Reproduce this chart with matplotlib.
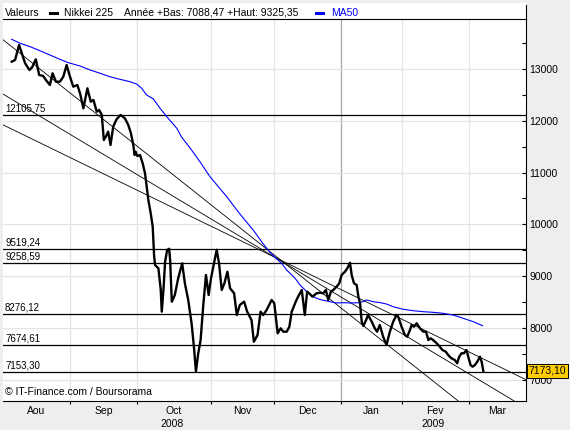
import matplotlib
matplotlib.use("Agg")
import matplotlib.pyplot as plt
from matplotlib.patches import Rectangle
from matplotlib.lines import Line2D
from matplotlib.transforms import blended_transform_factory

plt.rcParams['font.family'] = ['Liberation Sans', 'DejaVu Sans']

# ---------------- data ----------------
sessions = [2.6, 3.6, 4.8, 5.8, 6.6, 7.9, 8.7, 9.8, 10.8, 12.0,
            12.8, 14.0, 14.8, 15.8, 17.0, 18.0, 19.0, 20.0, 21.0, 22.2,
            23.0, 24.0, 25.2, 26.2, 27.0, 28.0, 28.7, 29.5, 30.1, 30.7,
            31.4, 32.1, 32.9, 33.9, 35.1, 36.4, 37.4, 38.2, 38.9, 39.3,
            39.6, 40.1, 40.9, 41.7, 42.4, 42.9, 43.4, 44.1, 44.7, 44.9,
            45.1, 45.4, 46.4, 47.1, 47.4, 47.9, 48.4, 49.0, 49.6, 49.9,
            50.4, 51.3, 52.3, 53.5, 54.3, 55.3, 56.3, 57.0, 57.6, 58.3,
            59.0, 59.8, 60.6, 61.4, 62.1, 62.8, 63.8, 64.5, 65.3, 66.1,
            67.0, 67.8, 69.0, 69.8, 70.7, 72.0, 72.9, 74.2, 74.9, 76.0,
            76.9, 77.7, 78.7, 80.2, 81.0, 82.0, 82.9, 83.7, 84.7, 85.5,
            86.2, 87.4, 88.1, 89.2, 90.1, 90.8, 91.4, 92.4, 93.6, 94.8,
            95.6, 96.4, 97.1, 97.9, 98.6, 99.6, 100.4, 101.1, 102.1, 102.8,
            103.6, 104.1, 104.8, 105.6, 106.1, 106.6, 107.1, 107.6, 108.4, 109.0,
            110.1, 111.0, 111.7, 112.5, 113.5, 114.5, 115.5, 116.5, 117.5, 118.0,
            119.0, 120.0, 120.7, 121.5, 122.0, 122.7, 123.5, 124.5, 125.5, 126.3,
            127.0, 127.7, 128.4, 129.5, 130.4, 131.2, 132.2, 132.9, 133.9, 134.9,
            135.6, 136.2, 136.9, 137.6, 138.4, 138.9, 139.6, 140.2, 140.9, 141.6,
            142.4, 142.9, 143.4]
close = [13141, 13174, 13463, 13270, 13110, 12981, 13033, 13187, 12884, 12865,
         12788, 12691, 12917, 12755, 12755, 12851, 13077, 12851, 12658, 12691,
         12531, 12241, 12627, 12369, 12402, 12176, 12209, 12112, 11629, 11693,
         11790, 11533, 11886, 12029, 12112, 12048, 11919, 11759, 11533, 11340,
         11403, 11320, 11340, 11180, 10986, 10728, 10471, 10214, 9956, 9699,
         9409, 9216, 9152, 8734, 8315, 8734, 9280, 9506, 9530, 9313,
         8508, 8637, 8959, 9249, 8863, 8541, 8091, 7639, 7162, 7512,
         7769, 8444, 9023, 8637, 8959, 9183, 9510, 9249, 8734, 8863,
         9087, 8767, 8670, 8251, 8444, 8508, 8315, 8154, 7735, 7865,
         8315, 8251, 8347, 8541, 8477, 7898, 7994, 7929, 7929, 8025,
         8315, 8508, 8604, 8734, 8251, 8701, 8670, 8604, 8670, 8682,
         8670, 8734, 8541, 8701, 8734, 8798, 8863, 9023, 9087, 9153,
         9260, 9023, 8863, 8830, 8604, 8477, 8122, 8039, 8154, 8251,
         8122, 7994, 7929, 8058, 7832, 7672, 7929, 8122, 8251, 8218,
         8025, 7865, 7832, 7961, 8058, 8025, 8091, 7994, 7929, 7929,
         7768, 7801, 7768, 7705, 7639, 7575, 7543, 7479, 7415, 7382,
         7319, 7446, 7512, 7512, 7575, 7446, 7286, 7253, 7286, 7350,
         7446, 7350, 7173.10]

ma_sessions = [2.6, 5.1, 8.1, 11.0, 14.0, 17.0, 19.5, 23.0, 26.0, 29.0,
               31.9, 34.9, 37.9, 39.9, 41.4, 42.9, 44.9, 46.9, 48.9, 51.9,
               53.3, 56.3, 58.8, 61.8, 64.3, 66.8, 69.8, 72.2, 74.7, 77.2,
               79.7, 81.7, 83.2, 84.7, 87.2, 88.7, 90.7, 92.6, 94.6, 97.6,
               99.6, 101.6, 103.6, 106.6, 108.6, 110.5, 112.5, 114.5, 116.5, 119.5,
               122.5, 125.5, 128.4, 131.4, 134.4, 137.4, 140.4, 143.2]
ma50 = [13573, 13496, 13431, 13353, 13270, 13187, 13122, 13058, 12981, 12917,
        12851, 12801, 12755, 12710, 12627, 12498, 12421, 12241, 12079, 11855,
        11687, 11436, 11210, 10921, 10728, 10535, 10278, 10085, 9892, 9666,
        9458, 9332, 9249, 9120, 8959, 8830, 8701, 8604, 8550, 8508,
        8483, 8489, 8483, 8489, 8541, 8508, 8492, 8463, 8411, 8361,
        8334, 8315, 8303, 8284, 8251, 8187, 8122, 8044]

month_starts = [20, 40, 62, 81, 101, 119, 139]
month_labels = ['Aou', 'Sep', 'Oct', 'Nov', 'Dec', 'Jan', 'Fev', 'Mar']
year_labels = ['2008', '2009']
year_start = 101
support_levels = [12105.75, 9519.24, 9258.59, 8276.12, 7674.61, 7153.30]
trend_start = [(0.1, 13560), (0.1, 12512), (0.1, 11919)]
trend_end = [(134.9, 6643), (151.3, 6643), (155.3, 7029)]
last_value = 7173.10
year_low = 7088.47
year_high = 9325.35
y_ticks = [7000, 8000, 9000, 10000, 11000, 12000, 13000]
y_minor = [7500, 8500, 9500, 10500, 11500, 12500, 13500]

# ---------------- layout ----------------
W, H = 570, 430
def fx(p): return p / W
def fy(p): return 1 - p / H

def fr(v):
    return f"{v:.2f}".replace('.', ',')

fig = plt.figure(figsize=(W / 100, H / 100), dpi=100, facecolor='#EEEEEE')
fig.add_artist(Rectangle((fx(3), fy(401)), fx(526) - fx(3), (401 - 3) / H,
                         transform=fig.transFigure, facecolor='white',
                         edgecolor='none', zorder=0))

ax = fig.add_axes([fx(3), fy(401), fx(525.5) - fx(3), (401 - 19) / H])
ax.set_facecolor('white')
x_min, x_max = 0, 156
ax.set_xlim(x_min, x_max)
ax.set_ylim(6591, 13965)

# grid
for m in month_starts:
    col = '#A8A8A8' if m == year_start else '#E4E4E4'
    ax.axvline(m, color=col, lw=0.9, zorder=1)
for t in y_ticks:
    ax.axhline(t, color='#E4E4E4', lw=0.9, zorder=1)

# support lines + labels
for lv in support_levels:
    ax.axhline(lv, color='black', lw=0.9, zorder=3)
    ax.annotate(fr(lv), xy=(0, lv), xycoords=('axes fraction', 'data'),
                xytext=(1.5, 1.2), textcoords='offset points',
                ha='left', va='bottom', fontsize=7, zorder=4)

# trend lines
for p0, p1 in zip(trend_start, trend_end):
    ax.axline(p0, p1, color='black', lw=0.6, zorder=3)

# MA50 and price
ax.plot(ma_sessions, ma50, color='#0000FF', lw=0.8, zorder=4)
ax.plot(sessions, close, color='black', lw=1.7, zorder=5,
        solid_joinstyle='round')

# spines
for s in ['left']:
    ax.spines[s].set_visible(False)
for s in ['top', 'bottom', 'right']:
    ax.spines[s].set_color('black')
    ax.spines[s].set_linewidth(0.8)
fig.add_artist(Line2D([fx(525.5), fx(525.5)], [fy(5), fy(19)],
                      transform=fig.transFigure, color='black', lw=0.8))

# y axis on right
ax.yaxis.tick_right()
ax.set_yticks(y_ticks)
ax.set_yticklabels([str(t) for t in y_ticks], fontsize=7.5)
ax.set_yticks(y_minor, minor=True)
ax.tick_params(axis='y', which='both', direction='in', length=3, width=0.8,
               pad=3, colors='black')

# x axis
ax.set_xticks(month_starts)
ax.set_xticklabels([])
ax.tick_params(axis='x', direction='out', length=2.5, width=0.8)

tr = blended_transform_factory(ax.transData, fig.transFigure)
bounds = [x_min] + month_starts + [x_max]
for i, lab in enumerate(month_labels):
    xc = (bounds[i] + bounds[i + 1]) / 2
    ax.text(xc, fy(411), lab, transform=tr, ha='center', va='center',
            fontsize=7.5, clip_on=False)
ybounds = [x_min, year_start, x_max]
for i, lab in enumerate(year_labels):
    xc = (ybounds[i] + ybounds[i + 1]) / 2
    ax.text(xc, fy(424), lab, transform=tr, ha='center', va='center',
            fontsize=7.5, clip_on=False)

# last value box
ax.annotate(fr(last_value), xy=(1, last_value),
            xycoords=('axes fraction', 'data'), xytext=(2.2, 0),
            textcoords='offset points', ha='left', va='center', fontsize=7.5,
            bbox=dict(boxstyle='square,pad=0.18', fc='#FFCC00', ec='black',
                      lw=0.7), annotation_clip=False, zorder=10)

# header
fig.text(fx(5), fy(12.5), 'Valeurs', ha='left', va='center', fontsize=7.5)
fig.add_artist(Rectangle((fx(49.3), fy(15)), 10 / W, 3.3 / H,
                         transform=fig.transFigure, facecolor='black',
                         edgecolor='none'))
fig.text(fx(64.3), fy(12.5), 'Nikkei 225', ha='left', va='center', fontsize=7.5)
fig.text(fx(124.3), fy(12.5),
         f"Année +Bas: {fr(year_low)} +Haut: {fr(year_high)}",
         ha='left', va='center', fontsize=7.5)
fig.add_artist(Rectangle((fx(315), fy(15)), 10 / W, 3.3 / H,
                         transform=fig.transFigure, facecolor='#0000FF',
                         edgecolor='none'))
fig.text(fx(330.7), fy(12.5), 'MA50', ha='left', va='center', fontsize=7.5,
         color='#0000FF')

fig.text(fx(5), fy(392), '\u00a9 IT-Finance.com / Boursorama', ha='left',
         va='center', fontsize=7.5)

fig.savefig('out.png', dpi=100, facecolor=fig.get_facecolor())
